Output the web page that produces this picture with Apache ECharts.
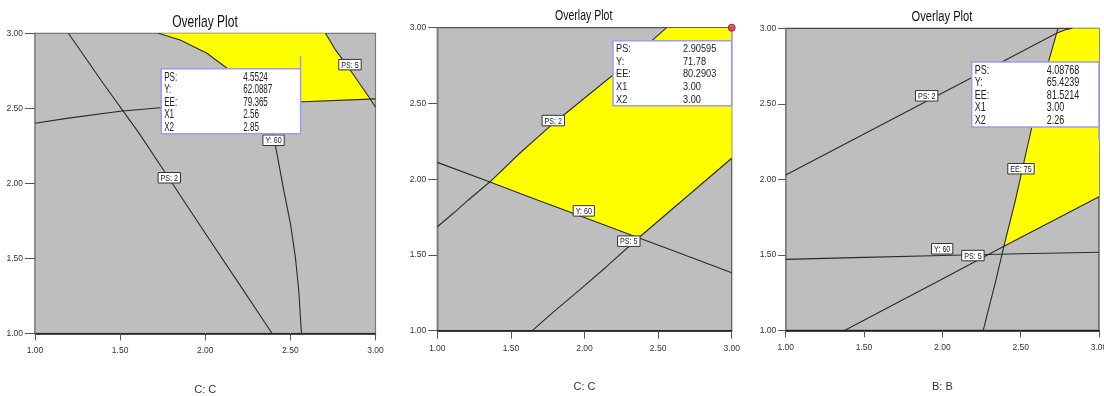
<!DOCTYPE html>
<html>
<head>
<meta charset="utf-8">
<script src="https://cdn.jsdelivr.net/npm/echarts@6/dist/echarts.min.js"></script>
<style>
  html, body { margin: 0; padding: 0; background: #ffffff; }
  #chart { width: 1104px; height: 396px; }
</style>
</head>
<body>
<div id="chart"></div>
<script>
// ---- shared axis ticks and text ----
const tickValues = [1.00, 1.50, 2.00, 2.50, 3.00];
const tickLabels = ['1.00', '1.50', '2.00', '2.50', '3.00'];
const plotTitle = 'Overlay Plot';
const axisNames = ['C: C', 'C: C', 'B: B'];
const flagFields = ['PS:', 'Y:', 'EE:', 'X1', 'X2'];

// ---- plot 1 (C: C) ----
const p1PS2 = [[1.196, 3.0], [1.4, 2.667], [1.612, 2.333], [1.806, 2.0], [2.0, 1.667], [2.197, 1.333], [2.392, 1.0]];
const p1Y60 = [[1.725, 3.0], [1.853, 2.955], [2.01, 2.867], [2.128, 2.767], [2.235, 2.649], [2.312, 2.522], [2.365, 2.409],
               [2.406, 2.289], [2.461, 1.955], [2.5, 1.733], [2.529, 1.511], [2.549, 1.289], [2.565, 1.0]];
const p1PS5 = [[2.706, 3.0], [2.765, 2.889], [2.83, 2.79], [2.892, 2.689], [2.961, 2.575], [3.0, 2.509]];
const p1EE = [[1.0, 2.4], [1.186, 2.433], [1.5, 2.48], [1.75, 2.505], [2.0, 2.52], [2.5, 2.54], [3.0, 2.563]];
const p1Window = [[1.725, 3.0], [1.853, 2.955], [2.01, 2.867], [2.128, 2.767], [2.235, 2.649], [2.306, 2.532], [2.5, 2.54],
                  [2.969, 2.561], [2.961, 2.575], [2.892, 2.689], [2.83, 2.79], [2.765, 2.889], [2.706, 3.0]];
const p1Tags = [['PS: 2', 1.789, 2.037], ['Y: 60', 2.401, 2.287], ['PS: 5', 2.85, 2.791]];
const p1FlagValues = ['4.5524', '62.0887', '79.365', '2.56', '2.85'];

// ---- plot 2 (C: C) ----
const p2PS2 = [[1.0, 1.686], [1.109, 1.775], [1.211, 1.863], [1.358, 1.983], [1.562, 2.173], [1.788, 2.368], [2.185, 2.681], [2.558, 3.0]];
const p2Y60 = [[1.0, 2.111], [1.358, 1.981], [1.675, 1.865], [2.0, 1.747], [2.366, 1.614], [2.581, 1.536], [3.0, 1.383]];
const p2PS5 = [[1.645, 1.0], [1.788, 1.123], [1.969, 1.271], [2.151, 1.424], [2.366, 1.612], [2.66, 1.856], [3.0, 2.138]];
const p2Window = [[1.358, 1.982], [1.562, 2.173], [1.788, 2.368], [2.185, 2.681], [2.558, 3.0], [3.0, 3.0], [3.0, 2.138],
                  [2.66, 1.856], [2.364, 1.613], [2.0, 1.747], [1.675, 1.865]];
const p2Tags = [['PS: 2', 1.788, 2.387], ['Y: 60', 1.995, 1.791], ['PS: 5', 2.301, 1.591]];
const p2FlagValues = ['2.90595', '71.78', '80.2903', '3.00', '3.00'];

// ---- plot 3 (B: B) ----
const p3PS2 = [[1.0, 2.028], [1.5, 2.30], [2.0, 2.572], [2.41, 2.793], [2.729, 2.967], [2.793, 2.993], [2.83, 3.0]];
const p3EE75 = [[2.261, 1.0], [2.342, 1.333], [2.395, 1.565], [2.467, 1.863], [2.524, 2.128], [2.572, 2.348], [2.62, 2.57],
                [2.687, 2.812], [2.729, 2.967], [2.738, 3.0]];
const p3PS5 = [[1.378, 1.0], [2.0, 1.34], [2.393, 1.556], [3.0, 1.885]];
const p3Y60 = [[1.0, 1.47], [1.5, 1.483], [2.0, 1.495], [2.5, 1.507], [3.0, 1.517]];
const p3Window = [[2.393, 1.556], [2.467, 1.863], [2.524, 2.128], [2.572, 2.348], [2.62, 2.57], [2.687, 2.812], [2.729, 2.967],
                  [2.793, 2.993], [2.83, 3.0], [3.0, 3.0], [3.0, 1.885]];
const p3Tags = [['PS: 2', 1.9, 2.553], ['EE: 75', 2.502, 2.07], ['Y: 60', 1.999, 1.54], ['PS: 5', 2.195, 1.495]];
const p3FlagValues = ['4.08768', '65.4239', '81.5214', '3.00', '2.26'];

// ---- layout and look of each plot ----
const FONT = '"Liberation Sans", Arial, sans-serif';
const NARROW = '"Liberation Sans Narrow", "Liberation Sans", Arial, sans-serif';
const layout = [
  { grid: { left: 35, top: 33.3, width: 340.5, height: 300 }, border: '#777',
    titleX: 205, titleY: 22, titleFs: 17, titleSx: 0.71,
    tickY: 10, tickX: 7, boxW: 139.4, valX: 82, boxFs: 13, boxSx: 0.62, above: false, dot: false },
  { grid: { left: 437.3, top: 27.7, width: 294.4, height: 303 }, border: '#555',
    titleX: 583.7, titleY: 15.5, titleFs: 15, titleSx: 0.7,
    tickY: 9, tickX: 8, boxW: 118.7, valX: 70, boxFs: 11.5, boxSx: 0.8, above: false, dot: true },
  { grid: { left: 785.7, top: 28.3, width: 313.3, height: 302 }, border: '#444',
    titleX: 942, titleY: 16.5, titleFs: 15.5, titleSx: 0.72,
    tickY: 7.5, tickX: 7, boxW: 127.3, valX: 75, boxFs: 12, boxSx: 0.75, above: true, dot: false }
];

const plots = [
  { lines: [p1PS2, p1Y60, p1PS5, p1EE], window: p1Window, tags: p1Tags, flag: p1FlagValues },
  { lines: [p2PS2, p2Y60, p2PS5], window: p2Window, tags: p2Tags, flag: p2FlagValues },
  { lines: [p3PS2, p3EE75, p3PS5, p3Y60], window: p3Window, tags: p3Tags, flag: p3FlagValues }
];

const measureCtx = document.createElement('canvas').getContext('2d');
function textWidth(s, fs) {
  measureCtx.font = fs + 'px ' + FONT;
  return measureCtx.measureText(s).width;
}

function scaledText(s, x, y, fs, sx, align, color) {
  return {
    type: 'text', x: x, y: y, scaleX: sx,
    style: { text: s, x: 0, y: 0, font: fs + 'px ' + FONT, fill: color || '#222',
             textAlign: align, textVerticalAlign: 'middle', align: align, verticalAlign: 'middle' }
  };
}

const grids = [], xAxes = [], yAxes = [], series = [], graphics = [];

layout.forEach((look, i) => {
  grids.push(Object.assign({ show: true, backgroundColor: '#bebebe', borderColor: look.border, borderWidth: 1.2,
                             containLabel: false, outerBoundsMode: 'none' }, look.grid));

  const labelFmt = v => { const k = tickValues.findIndex(t => Math.abs(t - v) < 1e-9); return k >= 0 ? tickLabels[k] : ''; };

  xAxes.push({
    type: 'value', gridIndex: i, min: tickValues[0], max: tickValues[tickValues.length - 1], interval: 0.5,
    name: axisNames[i], nameLocation: 'middle', nameGap: 51,
    nameTextStyle: { fontFamily: NARROW, fontSize: 11, color: '#333' },
    axisLine: { show: true, onZero: false, lineStyle: { color: '#111', width: 1.5 } },
    axisTick: { show: true, length: look.tickX, lineStyle: { color: '#555', width: 1 } },
    axisLabel: { formatter: labelFmt, fontFamily: NARROW, fontSize: 8.5, color: '#333', margin: 13 },
    splitLine: { show: false }
  });
  yAxes.push({
    type: 'value', gridIndex: i, min: tickValues[0], max: tickValues[tickValues.length - 1], interval: 0.5,
    axisLine: { show: true, onZero: false, lineStyle: { color: '#888', width: 1.5 } },
    axisTick: { show: true, length: look.tickY, lineStyle: { color: '#555', width: 1 } },
    axisLabel: { formatter: labelFmt, fontFamily: NARROW, fontSize: 8.5, color: '#333', margin: look.tickY + 2 },
    splitLine: { show: false }
  });

  const plot = plots[i];

  // feasible (yellow) window
  series.push({
    type: 'custom', xAxisIndex: i, yAxisIndex: i, data: plot.window, clip: true, silent: true, z: 1,
    renderItem: (params, api) => {
      if (params.dataIndex !== 0) return null;
      return { type: 'polygon', shape: { points: plot.window.map(p => api.coord(p)) },
               style: { fill: '#ffff00', stroke: null } };
    }
  });

  // contour lines
  plot.lines.forEach(pts => {
    series.push({
      type: 'line', xAxisIndex: i, yAxisIndex: i, data: pts, symbol: 'none', showSymbol: false,
      silent: true, z: 2, clip: true, lineStyle: { color: '#2a2a2a', width: 1.1 }
    });
  });

  // contour tags
  series.push({
    type: 'custom', xAxisIndex: i, yAxisIndex: i, data: plot.tags.map(t => [t[1], t[2]]), clip: false, silent: true, z: 5,
    renderItem: (params, api) => {
      const c = api.coord([api.value(0), api.value(1)]);
      const s = plot.tags[params.dataIndex][0];
      const fs = 9.5, sx = 0.75;
      const w = textWidth(s, fs) * sx + 5, h = 10.5;
      return {
        type: 'group', children: [
          { type: 'rect', shape: { x: c[0] - w / 2, y: c[1] - h / 2, width: w, height: h },
            style: { fill: '#ffffff', stroke: '#333', lineWidth: 1 } },
          scaledText(s, c[0], c[1] + 0.5, fs, sx, 'center', '#222')
        ]
      };
    }
  });

  // flagged point with its readout box
  const flagPt = [parseFloat(plot.flag[3]), parseFloat(plot.flag[4])];
  series.push({
    type: 'custom', xAxisIndex: i, yAxisIndex: i, data: [flagPt], clip: false, silent: true, z: 10,
    renderItem: (params, api) => {
      const p = api.coord([api.value(0), api.value(1)]);
      const w = look.boxW, h = 65, gap = 13;
      const right = p[0], left = right - w;
      const top = look.above ? p[1] - gap - h : p[1] + gap;
      const joinY = look.above ? top + h : top;
      const kids = [
        { type: 'line', shape: { x1: right, y1: p[1], x2: right, y2: joinY }, style: { stroke: '#9c9cf0', lineWidth: 1.5 } },
        { type: 'rect', shape: { x: left, y: top, width: w, height: h }, style: { fill: '#ffffff', stroke: '#9c9cf0', lineWidth: 1.5 } }
      ];
      flagFields.forEach((f, r) => {
        const y = top + 8.3 + 12.6 * r;
        kids.push(scaledText(f, left + 3, y, look.boxFs, look.boxSx, 'left', '#222'));
        kids.push(scaledText(plot.flag[r], left + look.valX, y, look.boxFs, look.boxSx, 'left', '#222'));
      });
      return { type: 'group', children: kids };
    }
  });

  if (look.dot) {
    series.push({
      type: 'scatter', xAxisIndex: i, yAxisIndex: i, data: [flagPt], clip: false, silent: true, z: 12,
      symbol: 'circle', symbolSize: 7,
      itemStyle: { color: '#e8285a', borderColor: '#7a1020', borderWidth: 1 }
    });
  }

  graphics.push({
    type: 'text', x: look.titleX, y: look.titleY, scaleX: look.titleSx, z: 20,
    style: { text: plotTitle, x: 0, y: 0, font: look.titleFs + 'px ' + FONT, fill: '#111',
             textAlign: 'center', textVerticalAlign: 'middle' }
  });
});

const chart = echarts.init(document.getElementById('chart'), null, { renderer: 'canvas', width: 1104, height: 396 });
chart.setOption({
  animation: false,
  backgroundColor: '#ffffff',
  grid: grids,
  xAxis: xAxes,
  yAxis: yAxes,
  series: series,
  graphic: graphics
});
</script>
</body>
</html>
